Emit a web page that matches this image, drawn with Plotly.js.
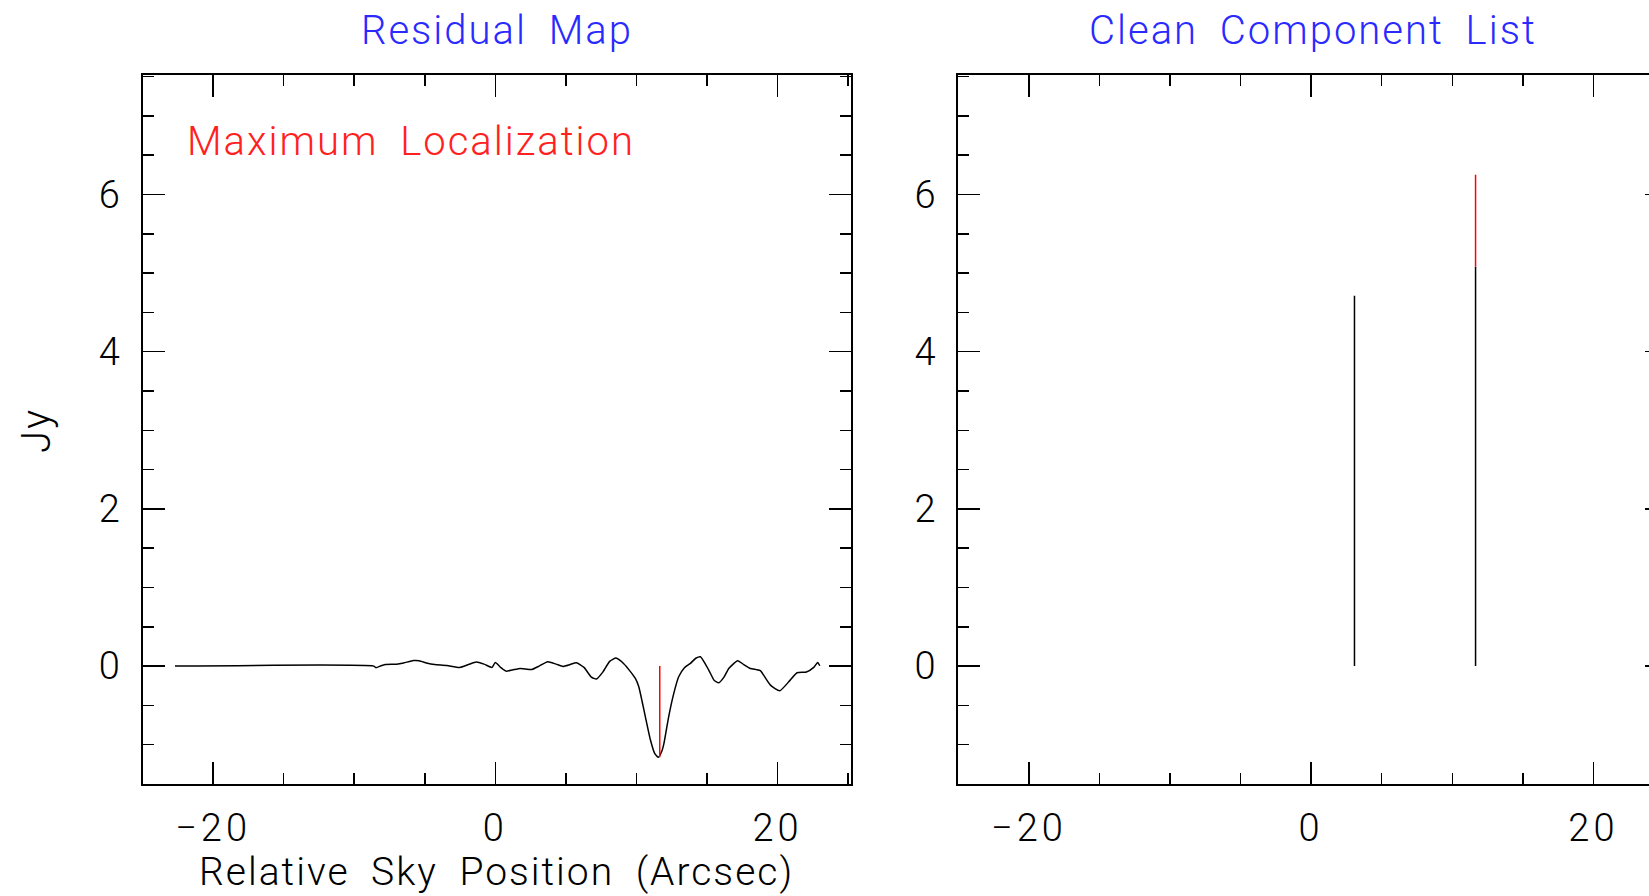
<!DOCTYPE html>
<html>
<head>
<meta charset="utf-8">
<script src="https://cdn.plot.ly/plotly-3.0.1.min.js"></script>
<style>
html, body { margin: 0; padding: 0; overflow: hidden; background: #ffffff; width: 1649px; height: 896px; }
#chart { width: 1680px; height: 896px; }
#chart .annotation-text { letter-spacing: 2px; word-spacing: 10px; }
#chart .xtick text, #chart .ytick text, #chart .x2tick text, #chart .y2tick text { letter-spacing: 4px; }
</style>
</head>
<body>
<div id="chart"></div>
<script>
// Residual map (left panel)
const residualX = [-22.7, -8.62, -8.46, -8.1, -7.8, -7.0, -6.5, -5.8, -5.4, -4.8, -4.3, -3.43, -2.53, -1.9, -1.35, -0.8, -0.24, 0.0, 0.4, 0.76, 1.2, 1.77, 2.6, 3.1, 3.71, 4.3, 4.8, 5.3, 5.74, 6.3, 6.8, 7.16, 7.6, 8.1, 8.55, 9.1, 9.57, 9.92, 10.16, 10.4, 10.63, 10.99, 11.29, 11.55, 11.8, 11.95, 12.28, 12.64, 12.99, 13.4, 13.82, 14.2, 14.53, 15.12, 15.5, 15.83, 16.2, 16.54, 17.17, 17.6, 18.07, 18.5, 18.78, 19.49, 20.15, 20.79, 21.38, 22.04, 22.56, 22.84, 22.99];
const residualY = [0.0, 0.0, -0.02, 0.005, 0.02, 0.025, 0.04, 0.07, 0.068, 0.035, 0.02, 0.008, -0.017, 0.02, 0.051, 0.025, -0.017, 0.047, -0.02, -0.064, -0.05, -0.03, -0.042, 0.0, 0.055, 0.025, -0.004, 0.02, 0.042, -0.02, -0.14, -0.165, -0.08, 0.06, 0.102, 0.03, -0.07, -0.157, -0.26, -0.45, -0.645, -0.94, -1.11, -1.16, -1.08, -0.98, -0.645, -0.35, -0.136, -0.02, 0.034, 0.1, 0.119, -0.05, -0.18, -0.212, -0.14, -0.03, 0.068, 0.02, -0.03, -0.045, -0.059, -0.242, -0.314, -0.2, -0.085, -0.076, -0.017, 0.047, 0.004];

// Maximum localization marker (left panel)
const peakX = [11.65, 11.65];
const peakY = [0.0, -1.16];

// Clean component list (right panel)
const componentX = [3.07, 11.65];
const componentBase = [0.0, 0.0];
const componentTop = [4.71, 5.08];
const newComponentX = [11.65, 11.65];
const newComponentY = [5.08, 6.25];

// Axis ranges
const xRange = [-25, 25.2];
const yRange = [-1.5, 7.52];

const titleLeft = 'Residual Map';
const titleRight = 'Clean Component List';
const markerLabel = 'Maximum Localization';
const xLabel = 'Relative Sky Position (Arcsec)';
const yLabel = 'Jy';

const FONT = 'Roboto, "DejaVu Sans", sans-serif';
const W = 1680, H = 896;

// component segments built from the arrays
const compSegX = [], compSegY = [];
for (let i = 0; i < componentX.length; i++) {
  compSegX.push(componentX[i], componentX[i], null);
  compSegY.push(componentBase[i], componentTop[i], null);
}

const traces = [
  {x: residualX, y: residualY, type: 'scatter', mode: 'lines',
   line: {color: '#000000', width: 1.5, shape: 'spline', smoothing: 0.5},
   xaxis: 'x', yaxis: 'y', hoverinfo: 'skip'},
  {x: peakX, y: peakY, type: 'scatter', mode: 'lines',
   line: {color: '#ff0000', width: 1.5}, xaxis: 'x', yaxis: 'y', hoverinfo: 'skip'},
  {x: compSegX, y: compSegY, type: 'scatter', mode: 'lines',
   line: {color: '#000000', width: 1.5}, xaxis: 'x2', yaxis: 'y2', hoverinfo: 'skip'},
  {x: newComponentX, y: newComponentY, type: 'scatter', mode: 'lines',
   line: {color: '#ff0000', width: 1.5}, xaxis: 'x2', yaxis: 'y2', hoverinfo: 'skip'}
];

function xAxis(domain, anchor) {
  return {
    domain: domain, anchor: anchor, range: xRange,
    showgrid: false, zeroline: false,
    showline: true, linecolor: '#000000', linewidth: 2, mirror: 'ticks',
    ticks: 'inside', ticklen: 22, tickwidth: 1.5, tickcolor: '#000000',
    tick0: 0, dtick: 20,
    minor: {ticks: 'inside', ticklen: 11, tickwidth: 1.5, tickcolor: '#000000', tick0: 0, dtick: 5, showgrid: false},
    ticklabelstandoff: 9,
    tickfont: {family: FONT, size: 38, color: '#000000', weight: 300}
  };
}
function yAxis(domain, anchor) {
  return {
    domain: domain, anchor: anchor, range: yRange,
    showgrid: false, zeroline: false,
    showline: true, linecolor: '#000000', linewidth: 2, mirror: 'ticks',
    ticks: 'inside', ticklen: 22, tickwidth: 1.5, tickcolor: '#000000',
    tick0: 0, dtick: 2,
    minor: {ticks: 'inside', ticklen: 11, tickwidth: 1.5, tickcolor: '#000000', tick0: 0, dtick: 0.5, showgrid: false},
    ticklabelstandoff: 9,
    tickfont: {family: FONT, size: 38, color: '#000000', weight: 300}
  };
}

const yDom = [(H - 784) / H, (H - 75) / H];

const layout = {
  width: W, height: H,
  margin: {l: 0, r: 0, t: 0, b: 0, pad: 0},
  paper_bgcolor: '#ffffff', plot_bgcolor: '#ffffff',
  showlegend: false,
  xaxis: xAxis([142.5 / W, 851 / W], 'y'),
  yaxis: yAxis(yDom, 'x'),
  xaxis2: xAxis([958.3 / W, 1666.8 / W], 'y2'),
  yaxis2: yAxis(yDom, 'x2'),
  annotations: [
    {text: titleLeft, xref: 'x domain', yref: 'paper', x: 0.5, y: 1 - 30 / H,
     xanchor: 'center', yanchor: 'middle', showarrow: false,
     font: {family: FONT, size: 40, color: '#2a2aff', weight: 300}},
    {text: titleRight, xref: 'x2 domain', yref: 'paper', x: 0.5, y: 1 - 30 / H,
     xanchor: 'center', yanchor: 'middle', showarrow: false,
     font: {family: FONT, size: 40, color: '#2a2aff', weight: 300}},
    {text: markerLabel, xref: 'paper', yref: 'paper', x: 411 / W, y: 1 - 142 / H,
     xanchor: 'center', yanchor: 'middle', showarrow: false,
     font: {family: FONT, size: 40, color: '#ff2020', weight: 300}},
    {text: xLabel, xref: 'x domain', yref: 'paper', x: 0.5, y: 1 - 872 / H,
     xanchor: 'center', yanchor: 'middle', showarrow: false,
     font: {family: FONT, size: 39, color: '#000000', weight: 300}},
    {text: yLabel, xref: 'paper', yref: 'paper', x: 36 / W, y: 1 - 431 / H,
     xanchor: 'center', yanchor: 'middle', showarrow: false, textangle: -90,
     font: {family: FONT, size: 40, color: '#000000', weight: 300}}
  ]
};

Plotly.newPlot('chart', traces, layout, {staticPlot: true, displayModeBar: false});
</script>
</body>
</html>
